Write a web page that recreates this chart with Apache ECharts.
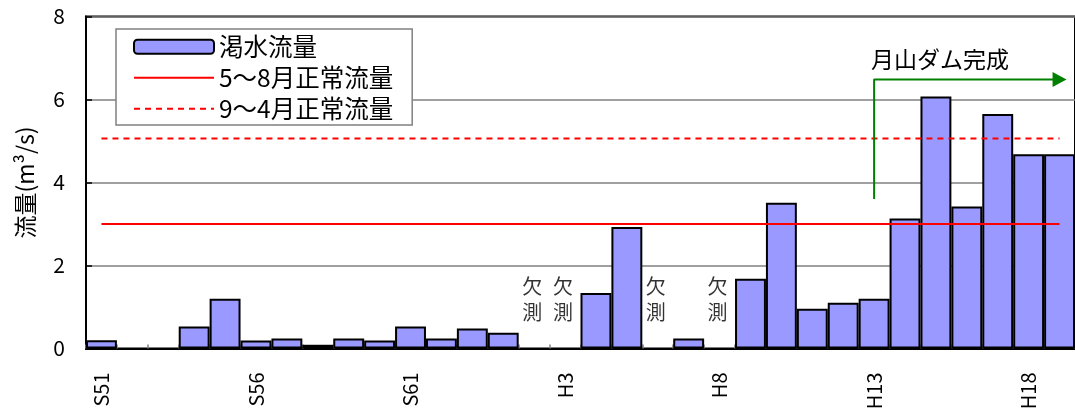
<!DOCTYPE html>
<html>
<head>
<meta charset="utf-8">
<script src="https://cdn.jsdelivr.net/npm/echarts@6/dist/echarts.min.js"></script>
<style>
html,body{margin:0;padding:0;background:#fff;}
#chart{width:1075px;height:414px;}
</style>
</head>
<body>
<div id="chart"></div>
<script>
// ---- data ----
const categories = ['S51','S52','S53','S54','S55','S56','S57','S58','S59','S60','S61','S62','S63',
  'H1','H2','H3','H4','H5','H6','H7','H8','H9','H10','H11','H12','H13','H14','H15','H16','H17','H18','H19'];
const lowFlow = [0.20, null, null, 0.53, 1.20, 0.19, 0.24, 0.09, 0.24, 0.19, 0.53, 0.24, 0.48,
  0.38, null, null, 1.34, 2.93, null, 0.24, null, 1.68, 3.51, 0.96, 1.10, 1.20, 3.13, 6.07, 3.42, 5.65, 4.68, 4.68];
const normalFlowMayAug = 3.0;
const normalFlowSepApr = 5.06;
const missingYears = ['H2','H3','H6','H8'];
const damCompleteYear = 'H13';
const damArrowEndYear = 'H19';
const damArrowLow = 3.6;
const damArrowHigh = 6.48;
const yMin = 0, yMax = 8, yStep = 2;

const FONT = '"Noto Sans CJK JP", "Noto Sans", sans-serif';
const last = categories[categories.length - 1];
const hiddenSymbol = {opacity: 0, color: 'rgba(0,0,0,0)', borderWidth: 0};

const chart = echarts.init(document.getElementById('chart'), null, {renderer: 'canvas'});
chart.setOption({
  animation: false,
  backgroundColor: '#ffffff',
  textStyle: {fontFamily: FONT},
  grid: {
    left: 86, top: 16.5, width: 992, bottom: 65.5,
    show: true, borderColor: '#000', borderWidth: 2, backgroundColor: 'transparent'
  },
  legend: {
    orient: 'vertical',
    left: 116, top: 29,
    padding: [5.5, 19, 4, 17],
    itemGap: 6.5,
    itemWidth: 80, itemHeight: 14,
    backgroundColor: '#fff',
    borderColor: '#808080', borderWidth: 1.5,
    data: [
      {name: '渇水流量'},
      {name: '5～8月正常流量', itemStyle: hiddenSymbol},
      {name: '9～4月正常流量', itemStyle: hiddenSymbol}
    ],
    textStyle: {fontSize: 24.5, color: '#000', fontFamily: FONT, lineHeight: 24.5}
  },
  xAxis: {
    type: 'category',
    data: categories,
    boundaryGap: true,
    axisLine: {lineStyle: {color: '#000', width: 2}},
    axisTick: {show: true, inside: true, length: 4, interval: 0, lineStyle: {color: '#808080', width: 1.5}},
    axisLabel: {interval: 4, rotate: 90, margin: 24, fontSize: 20, color: '#000', fontFamily: FONT},
    splitLine: {show: false}
  },
  yAxis: {
    type: 'value',
    min: yMin, max: yMax, interval: yStep,
    name: '流量(m³/s)',
    nameLocation: 'middle',
    nameGap: 49,
    nameTextStyle: {fontSize: 23, color: '#000', fontFamily: FONT},
    axisLine: {show: true, lineStyle: {color: '#000', width: 2}},
    axisTick: {show: true, inside: true, length: 6, lineStyle: {color: '#000', width: 1.5}},
    axisLabel: {fontSize: 21, margin: 21, color: '#000', fontFamily: FONT},
    splitLine: {show: true, lineStyle: {color: '#808080', width: 1.5}}
  },
  series: [
    {
      name: '渇水流量',
      type: 'bar',
      data: lowFlow,
      barCategoryGap: '0%',
      itemStyle: {color: '#9999ff', borderColor: '#000', borderWidth: 2},
      z: 2
    },
    {
      name: '5～8月正常流量',
      type: 'line',
      data: [[categories[0], normalFlowMayAug], [last, normalFlowMayAug]],
      symbol: 'none',
      lineStyle: {color: '#ff0000', width: 2},
      itemStyle: {color: '#ff0000'},
      z: 4
    },
    {
      name: '9～4月正常流量',
      type: 'line',
      data: [[categories[0], normalFlowSepApr], [last, normalFlowSepApr]],
      symbol: 'none',
      lineStyle: {color: '#ff0000', width: 2, type: [6, 5]},
      itemStyle: {color: '#ff0000'},
      z: 4
    },
    {
      name: 'missing',
      type: 'scatter',
      data: missingYears.map(c => [c, 0]),
      symbol: 'circle',
      symbolSize: 0,
      silent: true,
      label: {
        show: true, position: 'top', distance: 23.5, offset: [-2, 0],
        formatter: '欠\n測', fontSize: 20, lineHeight: 26, color: '#000', fontFamily: FONT
      },
      z: 5
    },
    {
      name: 'dam',
      type: 'line',
      symbol: 'none',
      silent: true,
      lineStyle: {color: '#008000', width: 2},
      itemStyle: {color: '#008000'},
      data: [
        {value: [damCompleteYear, damArrowLow]},
        {value: [damCompleteYear, damArrowHigh], symbol: 'circle', symbolSize: 0,
          label: {show: true, position: [-3, -32], formatter: '月山ダム完成',
            fontSize: 23, color: '#000', fontFamily: FONT}},
        {value: [damArrowEndYear, damArrowHigh], symbol: 'triangle', symbolSize: [15, 14], symbolRotate: -90}
      ],
      z: 5
    }
  ]
});
</script>
</body>
</html>
